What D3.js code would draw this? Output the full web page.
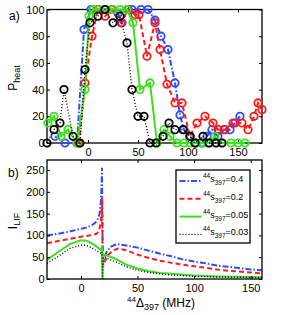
<!DOCTYPE html>
<html>
<head>
<meta charset="utf-8">
<title>Heating probability and LIF signal</title>
<script src="https://d3js.org/d3.v7.min.js"></script>
<style>
  body { margin: 0; background: #fff; }
  svg { font-family: "Liberation Sans", Arial, Helvetica, sans-serif; }
  .tick text { font-size: 11px; fill: #000; }
  .tick line { stroke: #000; stroke-width: 1; }
  .box { fill: none; stroke: #000; stroke-width: 1.3; }
</style>
</head>
<body>
<svg id="chart"></svg>
<script>
// ---- panel a) : heating probability (detuning MHz, P_heat %) ----
var heatBlue = [[-33,5],[-23,0],[-11,0],[-4,85],[3,100],[10,100],[17,100],[24,100],[30,97],[34,90],[40,100],[44,100],[53,100],[60,100],[67,92],[73,80],[80,70],[87,45],[92,21],[96,10],[102,5],[108,0],[114,0],[119,5],[124,10],[130,5],[136,10],[142,10],[147,15],[152,20]];
var heatRed = [[-9,0],[-3,45],[4,80],[10,100],[17,95],[24,100],[33,90],[40,100],[47,96],[51,96],[59,65],[67,90],[72,70],[79,44],[87,30],[94,30],[102,5],[109,15],[117,20],[125,15],[130,10],[137,10],[145,15],[154,15],[160,10],[166,20],[170,30],[174,25]];
var heatGreen = [[-40,15],[-34,20],[-27,5],[-20,10],[-11,0],[-3,40],[1,95],[5,100],[11,100],[18,100],[25,100],[32,100],[39,100],[45,90],[52,40],[62,45],[69,0],[76,10],[82,5],[89,0],[96,0],[102,0],[108,0],[115,0],[121,0],[127,5],[134,0],[143,0],[150,0],[157,0]];
var heatBlack = [[-41,0],[-34,10],[-28,15],[-24,40],[-15,5],[-8,0],[-3,55],[2,90],[10,95],[17,100],[25,90],[32,95],[39,75],[44,40],[50,20],[56,20],[62,0],[68,0],[75,5],[81,15],[87,10],[95,10],[102,5],[107,0],[115,5],[121,0],[128,0],[134,0]];

// ---- panel b) : LIF signal (detuning MHz, I_LIF) ----
var lifBlue = [[-30,100],[-20,104],[-10,109],[0,115],[5,118],[10,124],[13,130],[15,138],[16.5,150],[17.5,175],[18.2,210],[18.6,255],[18.9,150],[19.2,60],[19.6,38],[20.5,48],[23,64],[27,75],[32,80],[40,77],[50,72],[60,65],[70,58],[80,52],[90,45],[100,40],[110,36],[120,31],[130,28],[140,25],[150,22],[160,20]];
var lifRed = [[-30,82],[-20,87],[-10,92],[0,97],[10,101],[14,104],[16,110],[17.5,130],[18.3,160],[18.6,187],[18.9,120],[19.2,40],[19.8,30],[21,40],[24,55],[28,65],[33,70],[40,66],[50,56],[60,48],[70,42],[80,37],[90,33],[100,29],[110,26],[120,22],[130,19],[140,17],[150,15],[160,13]];
var lifGreen = [[-30,44],[-20,62],[-10,80],[0,89],[5,88],[10,81],[15,72],[17,68],[18.3,66],[18.6,75],[18.9,30],[19.1,0],[19.3,40],[19.7,57],[22,55],[30,47],[40,33],[50,24],[60,18],[70,14],[80,12],[90,10],[100,8],[120,6],[140,5],[160,4]];
var lifBlack = [[-30,36],[-20,52],[-10,70],[0,78],[5,77],[10,71],[15,63],[18.3,58],[18.6,62],[18.9,20],[19.1,0],[19.3,30],[19.7,50],[22,49],[30,40],[40,28],[50,20],[60,15],[70,12],[80,9],[90,8],[100,6],[120,5],[140,4],[160,3]];

var legendValues = ["0.4", "0.2", "0.05", "0.03"];
var ticksHeatX = [0, 50, 100, 150], ticksHeatY = [0, 20, 40, 60, 80, 100];
var ticksLifX = [0, 50, 100, 150], ticksLifY = [0, 50, 100, 150, 200, 250];

var styles = [
  {color: "#2f4cff", dash: "6,2,1.5,2"},
  {color: "#ff1a1a", dash: "5,3"},
  {color: "#3de01e", dash: null},
  {color: "#000000", dash: "1,2"}
];

var W = 282, H = 315, left = 47, right = 262;
var svg = d3.select("#chart").attr("width", W).attr("height", H);

function drawAxes(g, x, y, xt, yt, top, bottom) {
  g.append("g").attr("transform", "translate(0," + bottom + ")")
    .call(d3.axisBottom(x).tickValues(xt).tickSize(-3).tickPadding(5))
    .call(function(s){ s.select(".domain").remove(); });
  g.append("g").attr("transform", "translate(0," + top + ")")
    .call(d3.axisTop(x).tickValues(xt).tickSize(-3).tickFormat(""))
    .call(function(s){ s.select(".domain").remove(); });
  g.append("g").attr("transform", "translate(" + left + ",0)")
    .call(d3.axisLeft(y).tickValues(yt).tickSize(-3).tickPadding(2.5))
    .call(function(s){ s.select(".domain").remove(); });
  g.append("g").attr("transform", "translate(" + right + ",0)")
    .call(d3.axisRight(y).tickValues(yt).tickSize(-3).tickFormat(""))
    .call(function(s){ s.select(".domain").remove(); });
  g.append("rect").attr("class", "box")
    .attr("x", left).attr("y", top).attr("width", right - left).attr("height", bottom - top);
}

// ---------- panel a ----------
var xa = d3.scaleLinear().domain([-41, 174]).range([left, right]);
var ya = d3.scaleLinear().domain([0, 100]).range([143, 9.5]);
var ga = svg.append("g");
drawAxes(ga, xa, ya, ticksHeatX, ticksHeatY, 9.5, 143);

var lineA = d3.line().x(function(d){ return xa(d[0]); }).y(function(d){ return ya(d[1]); });
[heatBlue, heatRed, heatGreen, heatBlack].forEach(function(s, i) {
  var st = styles[i];
  ga.append("path").datum(s).attr("d", lineA)
    .attr("fill", "none").attr("stroke", st.color)
    .attr("stroke-width", i === 3 ? 1.3 : 2)
    .attr("stroke-dasharray", st.dash);
  ga.append("g").selectAll("circle").data(s).enter().append("circle")
    .attr("cx", function(d){ return xa(d[0]); })
    .attr("cy", function(d){ return ya(d[1]); })
    .attr("r", 3.7).attr("fill", "none")
    .attr("stroke", st.color).attr("stroke-width", 1.8);
});

ga.append("text").attr("x", 9).attr("y", 20).attr("font-size", 12).text("a)");
var la = ga.append("text").attr("transform", "translate(17,78) rotate(-90)")
  .attr("text-anchor", "middle").attr("font-size", 12);
la.append("tspan").text("P");
la.append("tspan").attr("dy", 3).attr("font-size", 9).text("heat");

// ---------- panel b ----------
var xb = d3.scaleLinear().domain([-30, 160]).range([left, right]);
var yb = d3.scaleLinear().domain([0, 273]).range([279, 160]);
var gb = svg.append("g");
gb.append("clipPath").attr("id", "clipb").append("rect")
  .attr("x", left).attr("y", 160).attr("width", right - left).attr("height", 119);

var lineB = d3.line().x(function(d){ return xb(d[0]); }).y(function(d){ return yb(d[1]); });
var curves = gb.append("g").attr("clip-path", "url(#clipb)");
[lifBlue, lifRed, lifGreen, lifBlack].forEach(function(s, i) {
  var st = styles[i];
  curves.append("path").datum(s).attr("d", lineB)
    .attr("fill", "none").attr("stroke", st.color)
    .attr("stroke-width", i === 3 ? 1.4 : 2)
    .attr("stroke-dasharray", st.dash);
});
drawAxes(gb, xb, yb, ticksLifX, ticksLifY, 160, 279);

gb.append("text").attr("x", 8).attr("y", 177).attr("font-size", 12).text("b)");
var lb = gb.append("text").attr("transform", "translate(17,221) rotate(-90)")
  .attr("text-anchor", "middle").attr("font-size", 12);
lb.append("tspan").text("I");
lb.append("tspan").attr("dy", 3).attr("font-size", 9).text("LIF");

var xl = gb.append("text").attr("x", 127).attr("y", 307).attr("font-size", 12);
xl.append("tspan").attr("dy", -5).attr("font-size", 8).text("44");
xl.append("tspan").attr("dy", 5).text("\u0394");
xl.append("tspan").attr("dy", 3).attr("font-size", 9).text("397");
xl.append("tspan").attr("dy", -3).text(" (MHz)");

// legend
var lg = gb.append("g");
lg.append("rect").attr("x", 176).attr("y", 170).attr("width", 74).attr("height", 73)
  .attr("fill", "#fff").attr("stroke", "#000").attr("stroke-width", 1.3);
legendValues.forEach(function(v, i) {
  var yy = 181 + i * 17.8, st = styles[i];
  lg.append("line").attr("x1", 179.5).attr("x2", 201.5).attr("y1", yy).attr("y2", yy)
    .attr("stroke", st.color).attr("stroke-width", i === 3 ? 1.2 : 2)
    .attr("stroke-dasharray", st.dash);
  var t = lg.append("text").attr("x", 203).attr("y", yy + 1).attr("font-size", 9);
  t.append("tspan").attr("dy", -4).attr("font-size", 6.5).text("44");
  t.append("tspan").attr("dy", 4).text("s");
  t.append("tspan").attr("dy", 3).attr("font-size", 6.5).text("397");
  t.append("tspan").attr("dy", -3).text("=" + v);
});
</script>
</body>
</html>
